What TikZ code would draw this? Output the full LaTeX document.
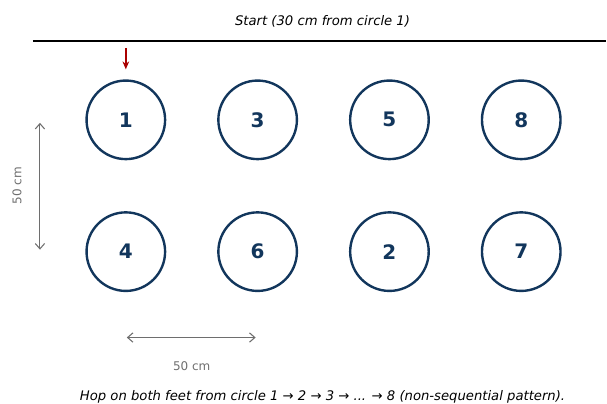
\documentclass[tikz,border=0pt]{standalone}
\usepackage{fontspec}
\setmainfont{DejaVu Sans}
\usetikzlibrary{arrows.meta}
\definecolor{ringblue}{RGB}{18,54,92}
\definecolor{startred}{RGB}{170,0,0}
\definecolor{dimgray}{RGB}{110,110,110}
\tikzset{
  ring/.style={circle,draw=ringblue,line width=1.8pt,minimum size=59pt,inner sep=0pt,
    text=ringblue,font=\fontsize{15}{17}\selectfont\bfseries},
  dimline/.style={draw=dimgray,line width=0.8pt,{Straight Barb[length=4pt,width=7pt]}-{Straight Barb[length=4pt,width=7pt]}},
  dimtext/.style={text=dimgray,font=\fontsize{9}{10}\selectfont,inner sep=0.75pt}
}
\begin{document}
\begin{tikzpicture}[x=0.75pt,y=0.75pt,yscale=-1,xscale=1]
\path (0,0) rectangle (607,403); %set diagram size

% Text Node
\node (start) at (323,21) [inner sep=0.75pt] {\fontsize{9.9}{11}\selectfont\itshape Start (30 cm from circle 1)};
%Straight Lines
\coordinate (lineL) at (33,41);
\coordinate (lineR) at (607,41);
\draw [line width=1.3pt] (lineL) -- (lineR);

% Circles
\node (c1) at (126,120) [ring] {1};
\node (c3) at (258,120) [ring] {3};
\node (c5) at (390,120) [ring] {5};
\node (c8) at (522,120) [ring] {8};
\node (c4) at (126,252) [ring] {4};
\node (c6) at (258,252) [ring] {6};
\node (c2) at (390,252) [ring] {2};
\node (c7) at (522,252) [ring] {7};

%Straight Lines (start arrow)
\coordinate (arrtop) at (126,48);
\draw [startred,line width=1.2pt,-{Stealth[length=6pt,width=5pt]}] (arrtop) -- ([yshift=-7.5pt]c1.north);

%Straight Lines (dimensions)
\coordinate (vtop) at (40,123);
\coordinate (vbot) at (40,250);
\draw [dimline] (vtop) -- (vbot);
\coordinate (hleft) at (127,338);
\coordinate (hright) at (256,338);
\draw [dimline] (hleft) -- (hright);

% Text Node
\node (vlabel) at (17,186) [dimtext,rotate=90] {50 cm};
% Text Node
\node (hlabel) at (192,367) [dimtext] {50 cm};
% Text Node
\node (note) at (323,397) [inner sep=0.75pt] {\fontsize{9.9}{11}\selectfont\itshape Hop on both feet from circle 1 → 2 → 3 → ... → 8 (non-sequential pattern).};

\end{tikzpicture}
\end{document}
